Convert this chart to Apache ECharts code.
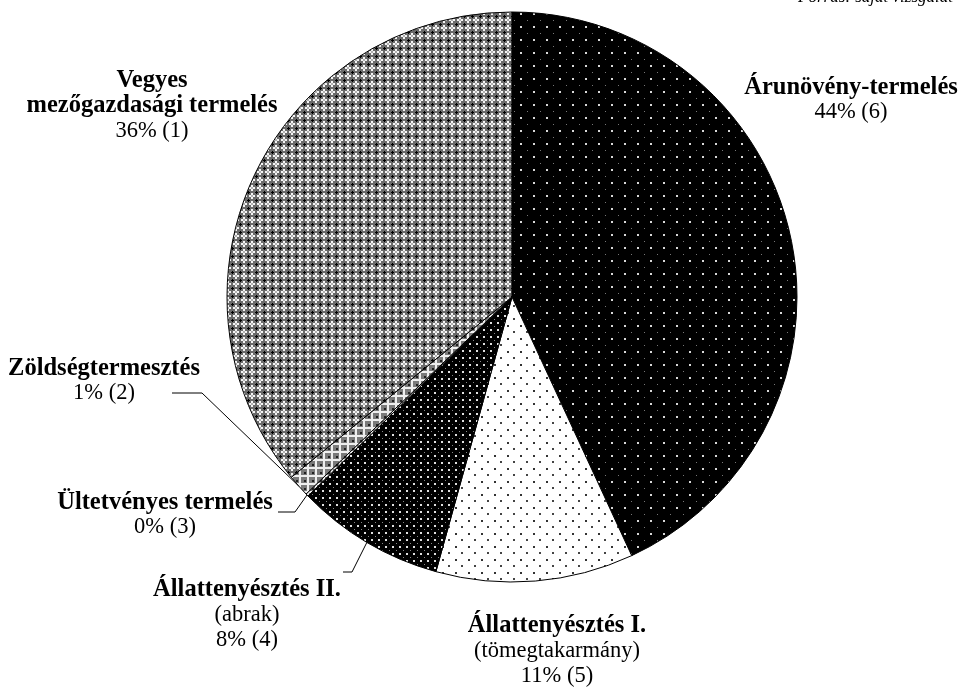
<!DOCTYPE html>
<html>
<head>
<meta charset="utf-8">
<script src="https://cdn.jsdelivr.net/npm/echarts@6/dist/echarts.min.js"></script>
<style>
html,body{margin:0;padding:0;background:#fff;}
#chart{width:959px;height:687px;}
</style>
</head>
<body>
<div id="chart"></div>
<script>
// ---- data ----
const categories = [
  'Árunövény-termelés',
  'Állattenyésztés I.',
  'Állattenyésztés II.',
  'Ültetvényes termelés',
  'Zöldségtermesztés',
  'Vegyes\nmezőgazdasági termelés'
];
const subtitles = ['', '(tömegtakarmány)', '(abrak)', '', '', ''];
const values = [43.1, 11.2, 8.4, 0.15, 1.25, 35.9];
const pctLabels = ['44% (6)', '11% (5)', '8% (4)', '0% (3)', '1% (2)', '36% (1)'];

// ---- label placement (centre of label block) ----
const labelPos = [
  [851, 100],
  [557, 651],
  [247, 615],
  [165, 515],
  [104, 381],
  [152, 106]
];
const showLine = [false, false, true, true, true, false];

// ---- patterns ----
function makeTile(w, h, draw) {
  const c = document.createElement('canvas');
  c.width = w; c.height = h;
  const ctx = c.getContext('2d');
  draw(ctx, w, h);
  return c;
}
const patArun = makeTile(13, 13, (g) => {
  g.fillStyle = '#000'; g.fillRect(0, 0, 13, 13);
  g.fillStyle = '#d8d8d8'; g.fillRect(0, 0, 2, 2);
  g.fillStyle = '#777'; g.fillRect(7, 7, 1, 1);
});
const patAllI = makeTile(13, 13, (g) => {
  g.fillStyle = '#fff'; g.fillRect(0, 0, 13, 13);
  g.fillStyle = '#333'; g.fillRect(0, 0, 2, 2);
  g.fillStyle = '#444'; g.fillRect(6, 6, 2, 2);
});
const patAllII = makeTile(7, 7, (g) => {
  g.fillStyle = '#000'; g.fillRect(0, 0, 7, 7);
  g.fillStyle = '#e0e0e0'; g.fillRect(0, 0, 2, 2);
  g.fillStyle = '#888'; g.fillRect(4, 4, 1, 1);
});
const patVegyes = makeTile(8, 8, (g) => {
  g.fillStyle = '#6a6a6a'; g.fillRect(0, 0, 8, 8);
  g.fillStyle = '#f4f4f4';
  g.fillRect(3, 1, 2, 6); g.fillRect(1, 3, 6, 2);
  g.fillStyle = '#000';
  g.fillRect(0, 0, 2, 1); g.fillRect(0, 0, 1, 2); g.fillRect(7, 0, 1, 1); g.fillRect(0, 7, 1, 1);
  g.fillStyle = '#b0b0b0'; g.fillRect(3, 3, 2, 2);
});
const patZold = makeTile(8, 8, (g) => {
  g.fillStyle = '#7a7a7a'; g.fillRect(0, 0, 8, 8);
  g.fillStyle = '#eee';
  g.fillRect(3, 0, 2, 8); g.fillRect(0, 3, 8, 2);
  g.fillStyle = '#222'; g.fillRect(0, 0, 2, 2);
});
const patterns = [patArun, patAllI, patAllII, patZold, patZold, patVegyes];

const chart = echarts.init(document.getElementById('chart'), null, {renderer: 'canvas'});

const seriesData = categories.map((name, i) => ({
  name: name,
  value: values[i],
  itemStyle: { color: { image: patterns[i], repeat: 'repeat' } },
  labelLine: { show: showLine[i] }
}));

function fmt(p) {
  const i = p.dataIndex;
  const lines = categories[i].split('\n').map(s => '{b|' + s + '}');
  if (subtitles[i]) lines.push('{r|' + subtitles[i] + '}');
  lines.push('{r|' + pctLabels[i] + '}');
  return lines.join('\n');
}

chart.setOption({
  backgroundColor: '#fff',
  animation: false,
  graphic: [{
    type: 'text',
    x: 953, y: 6,
    style: {
      text: 'Forrás: saját vizsgálat',
      font: 'italic 17px "Liberation Serif"',
      fill: '#000',
      textAlign: 'right',
      textVerticalAlign: 'bottom'
    }
  }],
  series: [{
    type: 'pie',
    center: [512, 297],
    radius: 285,
    startAngle: 90,
    clockwise: true,
    avoidLabelOverlap: false,
    itemStyle: { borderColor: '#000', borderWidth: 1 },
    emphasis: { disabled: true },
    label: {
      show: true,
      position: 'outside',
      formatter: fmt,
      color: '#000',
      fontFamily: 'Liberation Serif',
      align: 'center',
      lineHeight: 25,
      rich: {
        b: { fontFamily: 'Liberation Serif', fontWeight: 'bold', fontSize: 24.5, lineHeight: 25, color: '#000', align: 'center' },
        r: { fontFamily: 'Liberation Serif', fontSize: 22.5, lineHeight: 25, color: '#000', align: 'center' }
      }
    },
    labelLine: { show: true, lineStyle: { color: '#000', width: 1 } },
    labelLayout: function (params) {
      const i = params.dataIndex;
      const cx = labelPos[i][0], cy = labelPos[i][1];
      const out = { x: cx, y: cy, align: 'center', verticalAlign: 'middle' };
      if (showLine[i] && params.labelLinePoints) {
        const a = params.labelLinePoints[0];
        let p1, p2;
        if (i === 4) { p1 = [cx + 98, cy + 12]; p2 = [cx + 68, cy + 12]; }
        else if (i === 3) { p1 = [cx + 130, cy - 3]; p2 = [cx + 113, cy - 3]; }
        else { p1 = [cx + 105, cy - 43]; p2 = [cx + 96, cy - 43]; }
        out.labelLinePoints = [a, p1, p2];
      }
      return out;
    },
    data: seriesData
  }]
});
</script>
</body>
</html>
